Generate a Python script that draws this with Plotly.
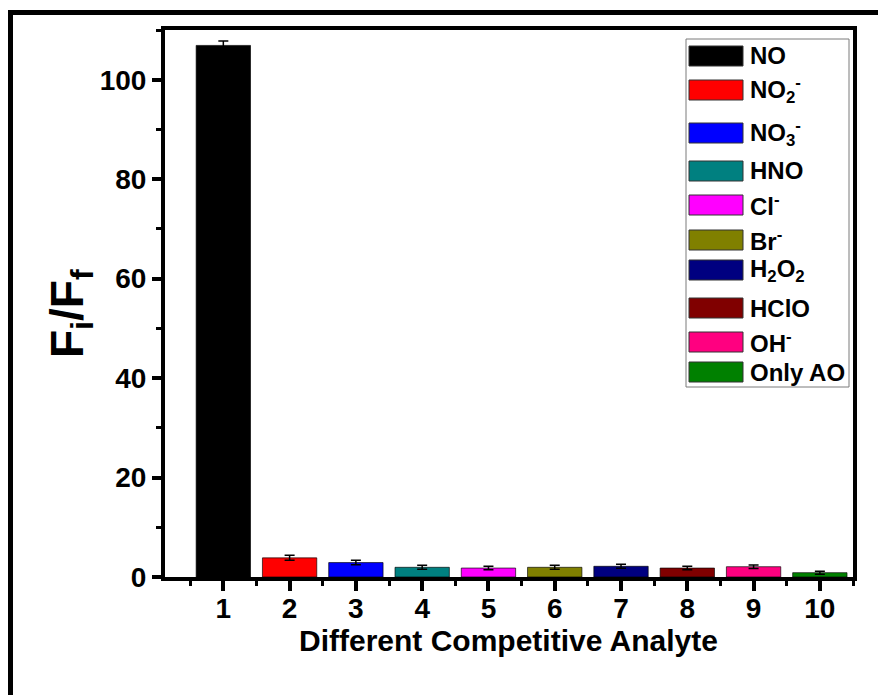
import plotly.graph_objects as go

# Fluorescence ratio Fi/Ff for each competitive analyte
analyte_index = [1, 2, 3, 4, 5, 6, 7, 8, 9, 10]
analyte_names = [
    "NO", "NO<sub>2</sub><sup>-</sup>", "NO<sub>3</sub><sup>-</sup>", "HNO",
    "Cl<sup>-</sup>", "Br<sup>-</sup>", "H<sub>2</sub>O<sub>2</sub>", "HClO",
    "OH<sup>-</sup>", "Only AO",
]
ratio_values = [106.9, 3.85, 2.9, 1.95, 1.8, 1.95, 2.15, 1.8, 2.07, 0.87]
ratio_errors = [0.9, 0.5, 0.45, 0.4, 0.35, 0.4, 0.4, 0.35, 0.35, 0.3]
bar_colors = [
    "#000000", "#FF0000", "#0000FF", "#008080", "#FF00FF",
    "#808000", "#000080", "#800000", "#FF0080", "#008000",
]
y_ticks = [0, 20, 40, 60, 80, 100]

FONT = "Liberation Sans, Arial, sans-serif"

fig = go.Figure()
fig.add_trace(go.Bar(
    x=analyte_index,
    y=ratio_values,
    width=0.82,
    marker=dict(color=bar_colors, line=dict(color="rgba(0,0,0,0.65)", width=1)),
    error_y=dict(type="data", array=ratio_errors, color="black", thickness=1.5, width=5),
    showlegend=False,
))

# Plot-area geometry in pixels (used for placing the legend, titles and frame)
W, H = 878, 695
L, R, T, B = 165, 25, 30, 118
pw, ph = W - L - R, H - T - B


def px_x(x):
    return (x - L) / pw


def px_y(y):
    return (H - B - y) / ph


shapes = []
annotations = []

# Legend panel
shapes.append(dict(type="rect", xref="paper", yref="paper",
                   x0=px_x(686), x1=px_x(849), y0=px_y(387), y1=px_y(39),
                   line=dict(color="#7a7a7a", width=1), fillcolor="white", layer="above"))
legend_centers = [56, 90, 133, 171, 205, 240, 270, 308, 342, 372]
for name, color, cy in zip(analyte_names, bar_colors, legend_centers):
    shapes.append(dict(type="rect", xref="paper", yref="paper",
                       x0=px_x(689), x1=px_x(743), y0=px_y(cy + 10), y1=px_y(cy - 10),
                       line=dict(color="#333333", width=1), fillcolor=color, layer="above"))
    annotations.append(dict(text=name, xref="paper", yref="paper",
                            x=px_x(748), y=px_y(cy), xanchor="left", yanchor="middle",
                            showarrow=False,
                            font=dict(family=FONT, size=24, color="black", weight="bold")))

# Outer frame lines (left and top)
shapes.append(dict(type="line", xref="paper", yref="paper",
                   x0=px_x(10.5), x1=px_x(10.5), y0=px_y(H + 5), y1=px_y(10),
                   line=dict(color="black", width=5)))
shapes.append(dict(type="line", xref="paper", yref="paper",
                   x0=px_x(8), x1=px_x(W + 5), y0=px_y(12.5), y1=px_y(12.5),
                   line=dict(color="black", width=5)))

# Axis titles
annotations.append(dict(text="F<sub>i</sub>/F<sub>f</sub>", xref="paper", yref="paper",
                        x=px_x(70), y=px_y(314), xanchor="center", yanchor="middle",
                        textangle=-90, showarrow=False,
                        font=dict(family=FONT, size=46, color="black", weight="bold")))
annotations.append(dict(text="Different Competitive Analyte", xref="paper", yref="paper",
                        x=px_x(508), y=px_y(622), xanchor="center", yanchor="top",
                        showarrow=False,
                        font=dict(family=FONT, size=30, color="black", weight="bold")))

fig.update_layout(
    width=W, height=H,
    margin=dict(l=L, r=R, t=T, b=B),
    paper_bgcolor="white", plot_bgcolor="white",
    shapes=shapes, annotations=annotations,
    bargap=0.18,
    xaxis=dict(
        range=[0.12, 10.5],
        tickvals=analyte_index,
        ticktext=[str(i) for i in analyte_index],
        ticks="outside", ticklen=10, tickwidth=3.5, tickcolor="black",
        minor=dict(tick0=0.5, dtick=1, ticks="outside", ticklen=5, tickwidth=3, tickcolor="black"),
        showline=True, linewidth=4, linecolor="black", mirror=True,
        showgrid=False, zeroline=False,
        ticklabelstandoff=-7,
        tickfont=dict(family=FONT, size=28, color="black", weight="bold"),
    ),
    yaxis=dict(
        range=[0, 110],
        tickvals=y_ticks,
        ticks="outside", ticklen=9, tickwidth=3.5, tickcolor="black",
        minor=dict(dtick=10, ticks="outside", ticklen=5, tickwidth=3, tickcolor="black"),
        showline=True, linewidth=4, linecolor="black", mirror=True,
        showgrid=False, zeroline=False,
        tickfont=dict(family=FONT, size=28, color="black", weight="bold"),
    ),
)

fig.write_html("out.html")
